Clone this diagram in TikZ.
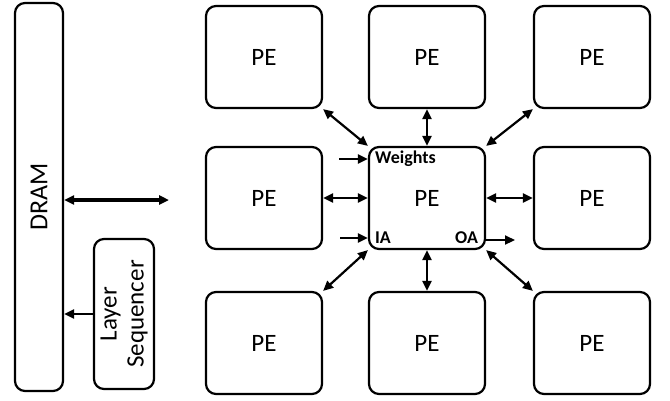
\documentclass[tikz,border=0pt]{standalone}
\usepackage{fontspec}
\setmainfont{Carlito}
\usepackage{tikz}
\usetikzlibrary{arrows.meta,positioning}

\begin{document}
\begin{tikzpicture}[x=1pt,y=-1pt,>={Triangle[length=10pt,width=9pt]},line width=2.2pt,
                    pe/.style={draw,rounded corners=10pt,minimum width=116pt,
                               minimum height=102pt,font=\fontsize{25}{28}\selectfont},
                    lbl/.style={font=\fontsize{18}{20}\selectfont\bfseries,inner sep=0pt},
                    link/.style={<->,line width=2.2pt}]
  \useasboundingbox (0,0) rectangle (670,400);

  % processing element array
  \path   (264, 57) node [pe] (pe00) {PE}
         +(  0,141) node [pe] (pe10) {PE}
         +(  0,286) node [pe] (pe20) {PE}
        ++(163,  0) node [pe] (pe01) {PE}
         +(  0,141) node [pe] (pe11) {PE}
         +(  0,286) node [pe] (pe21) {PE}
        ++(165,  0) node [pe] (pe02) {PE}
         +(  0,141) node [pe] (pe12) {PE}
         +(  0,286) node [pe] (pe22) {PE};

  % memory and control
  \node (dram) [draw,rounded corners=10pt,minimum width=388pt,minimum height=48pt,
                font=\fontsize{26}{28}\selectfont,rotate=90] at (39,197) {DRAM};
  \node (seq)  [draw,rounded corners=10pt,minimum width=150pt,minimum height=60pt,
                align=center,font=\fontsize{25}{27}\selectfont,rotate=90] at (124,314)
               {Layer\\Sequencer};

  \node (wlbl) [lbl,anchor=west] at (374,159) {Weights};
  \node (ialbl)[lbl,anchor=west] at (374,238) {IA};
  \node (oalbl)[lbl,anchor=east] at (479,238) {OA};

  \coordinate (bus)  at (169,200);
  \coordinate (win)  at (339,159);
  \coordinate (iain) at (340,238);
  \coordinate (oaout)at (515,240);

  \path (dram.south |- bus) edge [<->,line width=3.4pt] (bus)
        (seq.north)         edge [->] (seq.north -| dram.south)

        (pe00.south east)   edge [link] (pe11.north west)
        (pe01.south)        edge [link] (pe11.north)
        (pe02.south west)   edge [link] (pe11.north east)
        (pe10.east)         edge [link] (pe11.west)
        (pe12.west)         edge [link] (pe11.east)
        (pe20.north east)   edge [link] (pe11.south west)
        (pe21.north)        edge [link] (pe11.south)
        (pe22.north west)   edge [link] (pe11.south east)

        (win)               edge [->] (win -| pe11.west)
        (iain)              edge [->] (iain -| pe11.west)
        (oaout -| pe11.east) edge [->] (oaout);
\end{tikzpicture}
\end{document}
